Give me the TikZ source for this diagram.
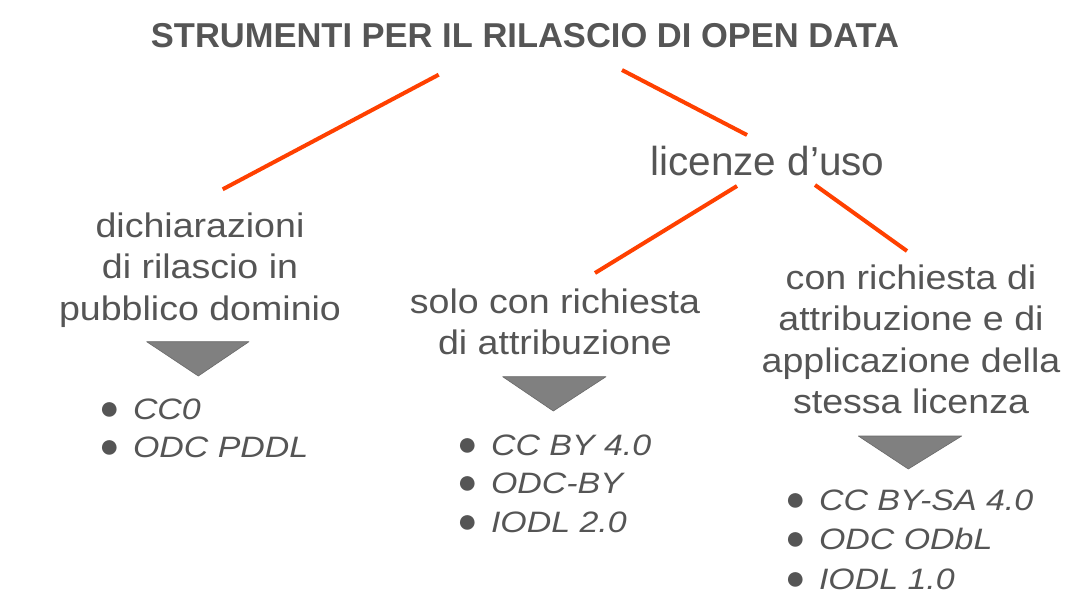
\documentclass[tikz,border=0pt]{standalone}
\usepackage{fontspec}
\setmainfont{Liberation Sans}
\usepackage{graphicx}
\definecolor{txt}{RGB}{85,85,85}
\definecolor{redline}{RGB}{255,64,0}
\definecolor{trifill}{RGB}{128,128,128}
\definecolor{triedge}{RGB}{105,105,105}
\newcommand{\wtxt}[1]{\scalebox{1.105}[1]{\begin{tabular}[t]{@{}c@{}}#1\end{tabular}}}
\newcommand{\ntxt}[1]{\begin{tabular}[t]{@{}c@{}}#1\end{tabular}}
\newcommand{\bul}{\makebox[34pt][l]{\fontsize{34}{34}\selectfont ●}}
\newcommand{\li}[1]{\bul\scalebox{1.15}[1]{\itshape #1}}
\newcommand{\blist}[1]{\begin{tabular}[t]{@{}l@{}}#1\end{tabular}}
\begin{document}
\begin{tikzpicture}[x=1pt,y=-1pt,
  every node/.style={inner sep=0pt, outer sep=0pt, text=txt},
  titletext/.style={anchor=base, font={\bfseries\fontsize{34.5}{40}\selectfont}},
  bigtext/.style={anchor=base, font={\fontsize{40.5}{48}\selectfont}},
  regtext/.style={anchor=base, font={\fontsize{34}{41.5}\selectfont}},
  listtext/.style={anchor=base west, font={\fontsize{29.5}{38.5}\selectfont}},
  link/.style={draw=redline, line width=4pt},
  tri/.style={fill=trifill, draw=triedge, line width=0.6pt, line join=round}]
\useasboundingbox[fill=white] (0,0) rectangle (1078,613);

\node[titletext] (title) at (525,47) {STRUMENTI PER IL RILASCIO DI OPEN DATA};
\node[bigtext] (lic) at (767.5,175) {\ntxt{licenze d’uso}};
\node[regtext] (dich) at (200,237) {\wtxt{dichiarazioni\\di rilascio in\\pubblico dominio}};
\node[regtext] (solo) at (555,313) {\wtxt{solo con richiesta\\di attribuzione}};
\node[regtext] (conr) at (911,289) {\wtxt{con richiesta di\\attribuzione e di\\applicazione della\\stessa licenza}};

\node[listtext] (list1) at (99,419) {\blist{\li{CC0}\\\li{ODC PDDL}}};
\node[listtext] (list2) at (457,455) {\blist{\li{CC BY 4.0}\\\li{ODC-BY}\\\li{IODL 2.0}}};
\node[listtext, font={\fontsize{29.5}{39.5}\selectfont}] (list3) at (785,510) {\blist{\li{CC BY-SA 4.0}\\\li{ODC ODbL}\\\li{IODL 1.0}}};

% triangles
\path[tri] (146.7,341.7) -- (249,341.7) -- (198.3,376) -- cycle;
\path[tri] (502.7,376.7) -- (606,376.7) -- (553.3,411) -- cycle;
\path[tri] (858.3,436) -- (961.7,436) -- (908.3,469) -- cycle;

% connectors
\coordinate (a1) at (438.7,74.7);
\coordinate (a2) at (222.7,189.3);
\coordinate (b1) at (622,70);
\coordinate (b2) at (747,135);
\coordinate (c1) at (737,186);
\coordinate (c2) at (595,273);
\coordinate (d1) at (815,185);
\coordinate (d2) at (907,251);
\draw[link] (a1) -- (a2);
\draw[link] (b1) -- (b2);
\draw[link] (c1) -- (c2);
\draw[link] (d1) -- (d2);
\end{tikzpicture}
\end{document}
